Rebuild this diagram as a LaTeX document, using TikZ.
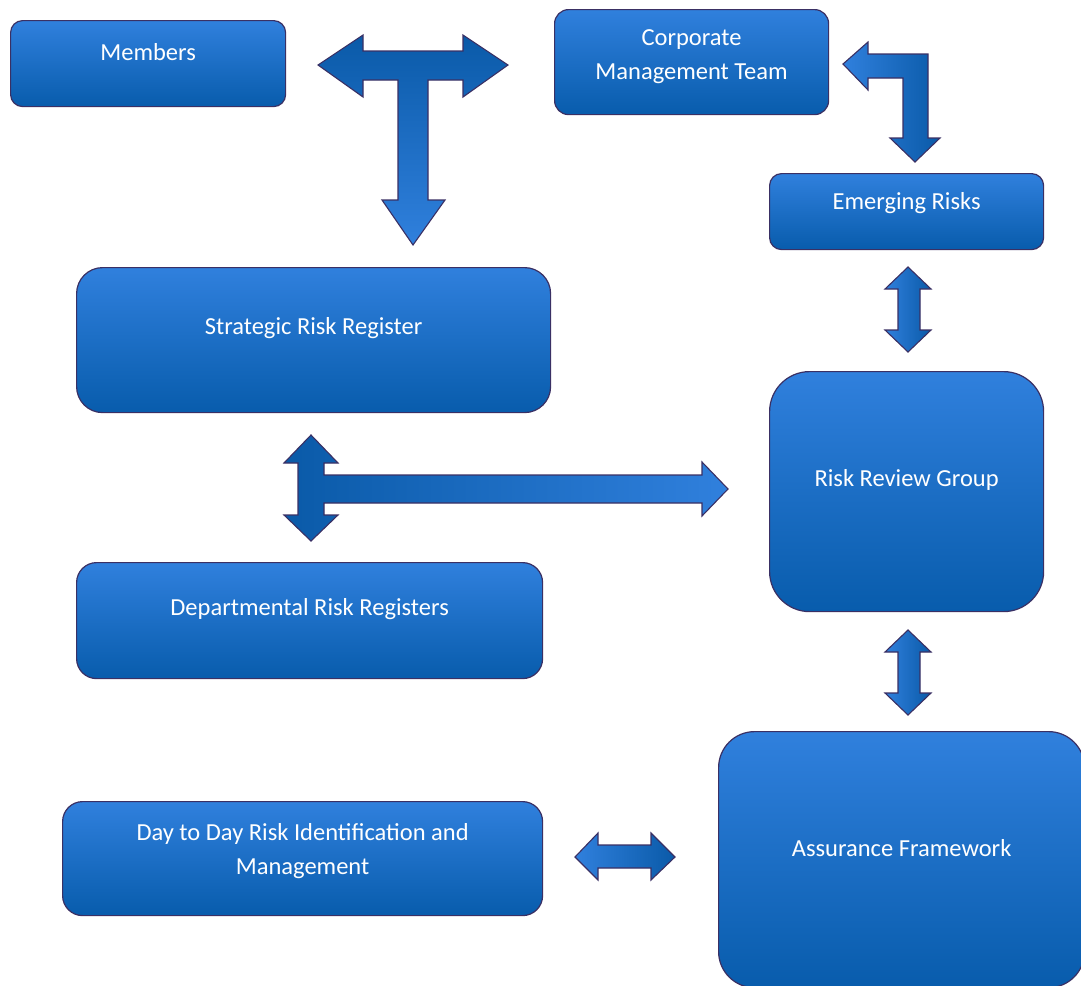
\documentclass[tikz,border=0pt]{standalone}
\usepackage{fontspec}
\setmainfont{Carlito}
\definecolor{boxtop}{RGB}{48,128,221}
\definecolor{boxbot}{RGB}{8,92,172}
\definecolor{edge}{RGB}{58,48,100}
\definecolor{arrdark}{RGB}{10,90,168}
\definecolor{arrlight}{RGB}{48,128,221}
\tikzset{
  box/.style={draw=edge, line width=1.2pt, top color=boxtop, bottom color=boxbot, anchor=north west, inner sep=0pt},
  lbl/.style={text=white, font=\fontsize{24.5}{34}\selectfont, align=center},
  blockarrow/.style={draw=edge, line width=1.1pt, line join=miter},
  vshade/.style={blockarrow, top color=arrdark, bottom color=arrlight},
  hshade/.style={blockarrow, left color=arrdark, right color=arrlight},
  rshade/.style={blockarrow, left color=arrlight, right color=arrdark}
}
\begin{document}
\begin{tikzpicture}[x=1pt,y=-1pt]
\useasboundingbox (0,0) rectangle (1081,985);
% boxes
\node[box, rounded corners=12pt, minimum width=275pt, minimum height=86pt] (members) at (10,20) {};
\node[box, rounded corners=14pt, minimum width=274pt, minimum height=105pt] (cmt) at (554,9) {};
\node[box, rounded corners=12pt, minimum width=274pt, minimum height=76pt] (emerg) at (769,173) {};
\node[box, rounded corners=26pt, minimum width=474pt, minimum height=145pt] (srr) at (76,267) {};
\node[box, rounded corners=40pt, minimum width=274pt, minimum height=240pt] (rrg) at (769,371) {};
\node[box, rounded corners=20pt, minimum width=466pt, minimum height=116pt] (drr) at (76,562) {};
\node[box, rounded corners=20pt, minimum width=480pt, minimum height=114pt] (day) at (62,801) {};
\node[box, rounded corners=36pt, minimum width=366pt, minimum height=256pt] (assur) at (718,731) {};
% labels
\node[lbl] (members-t) at ([yshift=12pt]members.center) {Members};
\node[lbl] (cmt-t) at ([yshift=5pt]cmt.center) {Corporate\\Management Team};
\node[lbl] (emerg-t) at ([yshift=9pt]emerg.center) {Emerging Risks};
\node[lbl] (srr-t) at ([yshift=12pt]srr.center) {Strategic Risk Register};
\node[lbl] (rrg-t) at ([yshift=12pt]rrg.center) {Risk Review Group};
\node[lbl] (drr-t) at ([yshift=12pt]drr.center) {Departmental Risk Registers};
\node[lbl] (day-t) at ([yshift=8pt]day.center) {Day to Day Risk Identification and\\Management};
\node[lbl] (assur-t) at ([yshift=12pt]assur.center) {Assurance Framework};
% T arrow (Members <-> CMT, down to Strategic)
\path[vshade] (318,65) -- (363,35) -- (363,51) -- (463,51) -- (463,35) -- (508,65) -- (463,97) -- (463,80)
  -- (428,80) -- (428,200) -- (445,200) -- (413,245) -- (382,200) -- (398,200) -- (398,80)
  -- (363,80) -- (363,97) -- cycle;
% bent arrow CMT -> Emerging Risks
\path[rshade] (843,64) -- (868,42) -- (868,54) -- (928,54) -- (928,138) -- (940,138) -- (915,162)
  -- (890,138) -- (903,138) -- (903,78) -- (868,78) -- (868,90) -- cycle;
% Emerging <-> RRG
\path[hshade, left color=arrlight, right color=arrdark] (908,267) -- (931,289) -- (920,289) -- (920,330) -- (931,330) -- (908,352)
  -- (885,330) -- (898,330) -- (898,289) -- (885,289) -- cycle;
% RRG <-> Assurance
\path[hshade, left color=arrlight, right color=arrdark] (908,630) -- (931,652) -- (920,652) -- (920,693) -- (931,693) -- (908,715)
  -- (885,693) -- (898,693) -- (898,652) -- (885,652) -- cycle;
% cross arrow Strategic <-> Departmental, -> RRG
\path[hshade] (311,435) -- (338,463) -- (324,463) -- (324,475) -- (702,475) -- (702,462) -- (728,489)
  -- (702,516) -- (702,503) -- (324,503) -- (324,515) -- (338,515) -- (311,541) -- (284,515)
  -- (298,515) -- (298,463) -- (284,463) -- cycle;
% Day <-> Assurance
\path[hshade, left color=arrlight, right color=arrdark] (575,857) -- (598,833) -- (598,845) -- (651,845) -- (651,833) -- (675,857)
  -- (651,880) -- (651,868) -- (598,868) -- (598,880) -- cycle;
\end{tikzpicture}
\end{document}
